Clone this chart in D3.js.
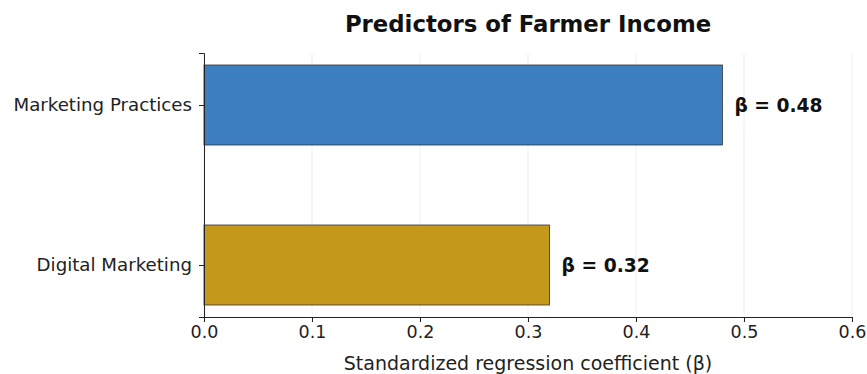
<!DOCTYPE html>
<html><head><meta charset="utf-8">
<script src="https://cdn.jsdelivr.net/npm/d3@7"></script>
<style>body{margin:0;background:#fff}svg{display:block}text{font-family:"DejaVu Sans",sans-serif}</style>
</head><body>
<svg id="c" width="867" height="374"></svg>
<script>
const categories = ["Marketing Practices", "Digital Marketing"];
const values = [0.48, 0.32];
const colors = ["#3d7ec0", "#c4991b"];
const xTicks = [0, 0.1, 0.2, 0.3, 0.4, 0.5, 0.6];
const title = "Predictors of Farmer Income";
const xLabel = "Standardized regression coefficient (β)";

const svg = d3.select("#c");
const m = {left: 204, right: 852, top: 53, bottom: 317};
const x = d3.scaleLinear().domain([0, 0.6]).range([m.left, m.right]);
const y = d3.scaleLinear().domain([-0.325, 1.325]).range([m.top, m.bottom]);
const barH = 0.5;

// grid
svg.append("g").selectAll("line").data(xTicks).join("line")
  .attr("x1", d => x(d)).attr("x2", d => x(d))
  .attr("y1", m.top).attr("y2", m.bottom)
  .attr("stroke", "#ebebeb").attr("stroke-width", 0.8);

// bars
svg.append("g").selectAll("rect").data(values).join("rect")
  .attr("x", x(0)).attr("y", (d, i) => y(i - barH / 2))
  .attr("width", d => x(d) - x(0)).attr("height", y(barH) - y(0))
  .attr("fill", (d, i) => colors[i]).attr("stroke", "#333").attr("stroke-width", 0.8);

// value labels
svg.append("g").selectAll("text").data(values).join("text")
  .attr("x", d => x(d) + 12).attr("y", (d, i) => y(i))
  .attr("dy", "0.35em").attr("font-size", 18.7).attr("font-weight", "bold").attr("fill", "#111")
  .text(d => "β = " + d.toFixed(2));

// x axis
const xa = svg.append("g").attr("transform", `translate(0,${m.bottom})`)
  .call(d3.axisBottom(x).tickValues(xTicks).tickFormat(d3.format(".1f")).tickSizeOuter(0).tickSize(5).tickPadding(4));
xa.select(".domain").attr("stroke", "#222").attr("stroke-width", 1);
xa.selectAll(".tick line").attr("stroke", "#222");
xa.selectAll("text").attr("font-size", 17.5).attr("fill", "#222").attr("font-family", "DejaVu Sans, sans-serif");

// y axis
const ya = svg.append("g").attr("transform", `translate(${m.left},0)`)
  .call(d3.axisLeft(y).tickValues([0, 1]).tickFormat(i => categories[i]).tickSizeOuter(0).tickSize(5).tickPadding(7));
ya.select(".domain").attr("stroke", "#222").attr("stroke-width", 1);
ya.selectAll(".tick line").attr("stroke", "#222");
ya.selectAll("text").attr("font-size", 18.2).attr("fill", "#222").attr("font-family", "DejaVu Sans, sans-serif");

// title
svg.append("text").attr("x", 528).attr("y", 32).attr("text-anchor", "middle")
  .attr("font-size", 22.8).attr("font-weight", "bold").attr("fill", "#111").text(title);
// x label
svg.append("text").attr("x", 528).attr("y", 370).attr("text-anchor", "middle")
  .attr("font-size", 19).attr("fill", "#222").text(xLabel);
</script>
</body></html>
